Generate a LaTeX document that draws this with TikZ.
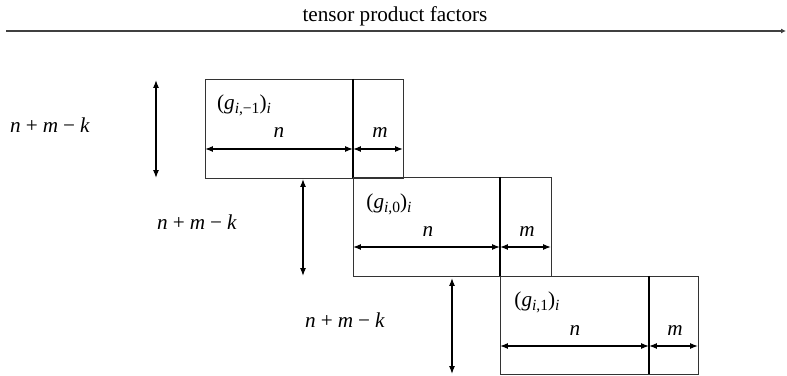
\documentclass[tikz,border=0pt]{standalone}
\usepackage{fontspec}
\setmainfont{Liberation Serif}
\usetikzlibrary{arrows.meta}
\tikzset{
  dimarrow/.style={{Latex[length=4pt,width=3pt]}-{Latex[length=4pt,width=3pt]}, line width=0.6pt},
  blockline/.style={line width=0.45pt, black!80},
  divider/.style={line width=1pt}
}
\newcommand{\nmk}{\textit{n}\kern2.6pt+\kern2.6pt\textit{m}\kern2.6pt−\kern2.6pt\textit{k}}
\newcommand{\lowsub}[1]{\raisebox{-2.2pt}{\fontsize{8}{9}\selectfont #1}}
\newcommand{\gfac}[1]{(\textit{g}\lowsub{\textit{i},#1})\lowsub{\textit{i}}}
\begin{document}
\begin{tikzpicture}[x=0.514pt, y=-0.514pt, every node/.style={font=\fontsize{10.9}{13}\selectfont}]
\useasboundingbox (0,0) rectangle (787,376);
% Top axis
\coordinate (axisL) at (6,31);
\coordinate (axisR) at (786,31);
\draw[-{Latex[length=2.5pt,width=2.5pt]}, line width=0.6pt, black!75] (axisL) -- (axisR);
\node (axislabel) at (395,16) {tensor product factors};
% First block
\draw[blockline] (205,79) rectangle (403,178);
\coordinate (topA) at (353,79);
\coordinate (botA) at (353,178);
\draw[divider] (topA) -- (botA);
\coordinate (leftA) at (205,149);
\coordinate (midA) at (353,149);
\coordinate (rightA) at (403,149);
\draw[dimarrow] (leftA) -- (midA);
\draw[dimarrow] (midA) -- (rightA);
\node (gA) at (244,105) {\gfac{−1}};
\node (nA) at (279,133) {\textit{n}};
\node (mA) at (380,133) {\textit{m}};
\coordinate (upA) at (156,80);
\coordinate (downA) at (156,178);
\draw[dimarrow] (upA) -- (downA);
\node (kA) at (50,125) {\nmk};
% Second block
\draw[blockline] (353,177) rectangle (551,276);
\coordinate (topB) at (500,177);
\coordinate (botB) at (500,276);
\draw[divider] (topB) -- (botB);
\coordinate (leftB) at (353,247);
\coordinate (midB) at (500,247);
\coordinate (rightB) at (551,247);
\draw[dimarrow] (leftB) -- (midB);
\draw[dimarrow] (midB) -- (rightB);
\node (gB) at (389,204) {\gfac{0}};
\node (nB) at (428,232) {\textit{n}};
\node (mB) at (527,232) {\textit{m}};
\coordinate (upB) at (303,179);
\coordinate (downB) at (303,276);
\draw[dimarrow] (upB) -- (downB);
\node (kB) at (197,222) {\nmk};
% Third block
\draw[blockline] (500,276) rectangle (698,374);
\coordinate (topC) at (649,276);
\coordinate (botC) at (649,374);
\draw[divider] (topC) -- (botC);
\coordinate (leftC) at (500,346);
\coordinate (midC) at (649,346);
\coordinate (rightC) at (698,346);
\draw[dimarrow] (leftC) -- (midC);
\draw[dimarrow] (midC) -- (rightC);
\node (gC) at (537,302) {\gfac{1}};
\node (nC) at (575,331) {\textit{n}};
\node (mC) at (675,331) {\textit{m}};
\coordinate (upC) at (452,278);
\coordinate (downC) at (452,374);
\draw[dimarrow] (upC) -- (downC);
\node (kC) at (345,320) {\nmk};
\end{tikzpicture}
\end{document}
